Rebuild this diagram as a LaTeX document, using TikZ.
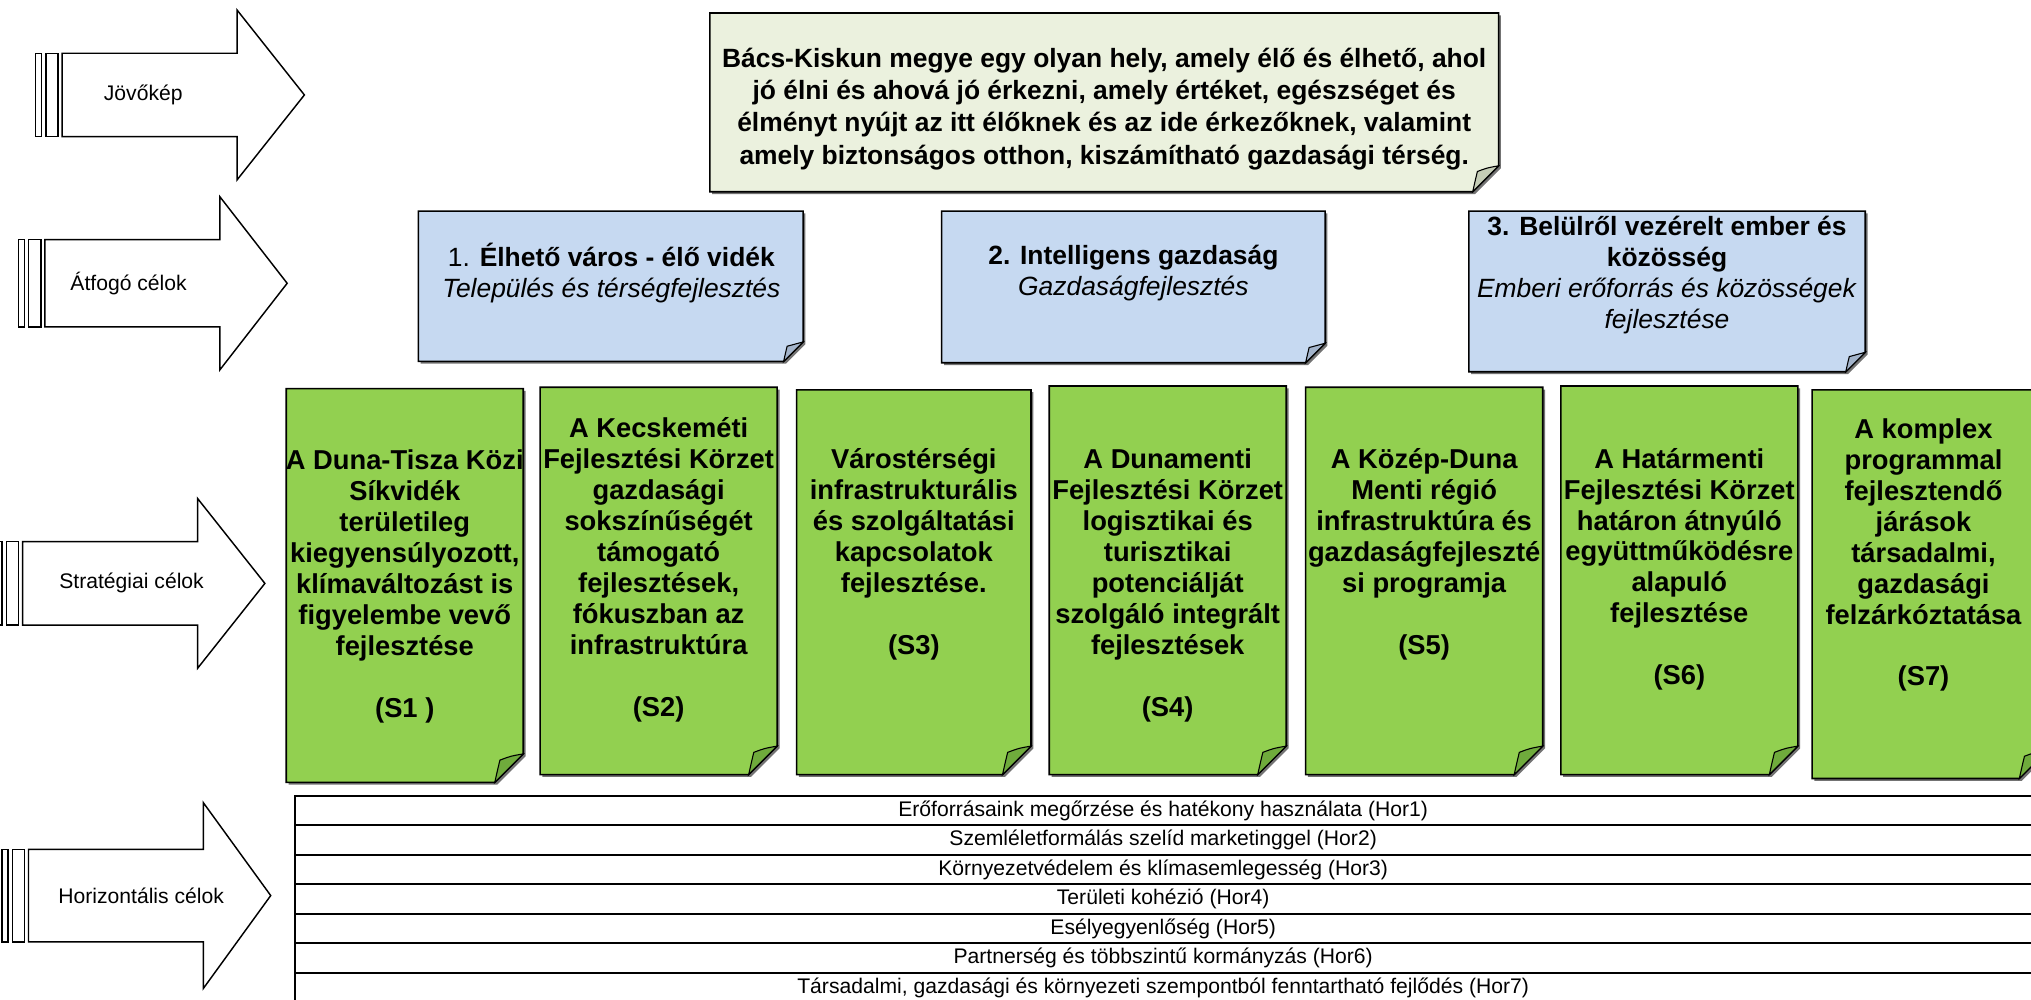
\documentclass[tikz,border=0pt]{standalone}
\usepackage{fontspec}
\setmainfont{Liberation Sans}
\usepackage{tikz}
\usetikzlibrary{positioning,calc}
\usepackage{xcolor}

\definecolor{visionfill}{HTML}{EBF1DE}
\definecolor{visionfold}{HTML}{C5CDB6}
\definecolor{goalfill}{HTML}{C6D9F1}
\definecolor{goalfold}{HTML}{A3B4CB}
\definecolor{stratfill}{HTML}{92D050}
\definecolor{stratfold}{HTML}{6FAB3C}

% sticky note: left, top, right, bottom, fold size, fill, fold fill
\newcommand{\notebox}[7]{%
  \fill[black!55] (#1+1.8,#2+1.8) -- (#3+1.8,#2+1.8) -- (#3+1.8,#4+1.8-#5) -- (#3+1.8-#5,#4+1.8) -- (#1+1.8,#4+1.8) -- cycle;
  \draw[noteline, fill=#6] (#1,#2) -- (#3,#2) -- (#3,#4-#5) -- (#3-#5,#4) -- (#1,#4) -- cycle;
  \draw[noteline, line width=0.6pt, fill=#7] (#3,#4-#5) .. controls (#3-0.45*#5,#4-0.92*#5) .. (#3-0.82*#5,#4-0.78*#5)
    .. controls (#3-0.9*#5,#4-0.45*#5) .. (#3-#5,#4) -- cycle;
}

\begin{document}
\begin{tikzpicture}[x=0.025cm, y=-0.025cm,
    noteline/.style={line width=0.9pt, line join=miter},
    arrowline/.style={line width=0.8pt, fill=white},
    levelfont/.style={font=\fontsize{11.6}{13.5}\selectfont},
    visiontext/.style={font=\fontsize{14.5}{17.8}\selectfont\bfseries, align=center},
    goaltext/.style={font=\fontsize{14.5}{17}\selectfont, align=center},
    strattext/.style={font=\fontsize{15}{17}\selectfont\bfseries, align=center},
    hortext/.style={font=\fontsize{11.6}{13.5}\selectfont}]
    \useasboundingbox (0,0) rectangle (1568,772);

    % Level arrows on the left
    \foreach \n/\xb/\ym/\hb/\hh/\xl/\txt in {1/48/73.3/32.2/65.6/110.6/Jövőkép,
        2/34.7/218.7/33.7/66.9/99.3/Átfogó célok,
        3/17.5/450.4/32.2/65.6/101.6/Stratégiai célok,
        4/22/691.4/35.7/71.7/109/Horizontális célok} {
        \draw[arrowline] (\xb-20.5,\ym-\hb) rectangle (\xb-15.8,\ym+\hb);
        \draw[arrowline] (\xb-12.5,\ym-\hb) rectangle (\xb-3.2,\ym+\hb);
        \draw[arrowline] (\xb,\ym-\hb) -- (\xb+135,\ym-\hb) -- (\xb+135,\ym-\hh) -- (\xb+187,\ym)
            -- (\xb+135,\ym+\hh) -- (\xb+135,\ym+\hb) -- (\xb,\ym+\hb) -- cycle;
        \node[levelfont] (level\n) at (\xl,\ym) {\txt};
    }

    % Vision
    \notebox{548}{10}{1157}{148}{20}{visionfill}{visionfold}
    \node[visiontext] (vision) at (852.5,84) {Bács-Kiskun megye egy olyan hely, amely élő és élhető, ahol\\
        jó élni és ahová jó érkezni, amely értéket, egészséget és\\
        élményt nyújt az itt élőknek és az ide érkezőknek, valamint\\
        amely biztonságos otthon, kiszámítható gazdasági térség.};

    % Overarching goals
    \notebox{323}{163}{620}{279}{15}{goalfill}{goalfold}
    \notebox{727}{163}{1023}{280}{15}{goalfill}{goalfold}
    \notebox{1134}{163}{1440}{287}{15}{goalfill}{goalfold}
    \node[goaltext] (goal1) at (472,211) {1. \textbf{Élhető város - élő vidék}\\\textit{Település és térségfejlesztés}};
    \node[goaltext] (goal2) at (875,211) {\textbf{2. Intelligens gazdaság}\\\textit{Gazdaságfejlesztés}};
    \node[goaltext] (goal3) at (1287,212) {\textbf{3. Belülről vezérelt ember és}\\\textbf{közösség}\\
        \textit{Emberi erőforrás és közösségek}\\\textit{fejlesztése}};

    % Strategic goals
    \foreach \l/\t/\r/\b in {221/300/404/604, 417/299/600/598, 615/301/796/598, 810/298/993/598,
        1008/299/1191/598, 1205/298/1388/598, 1399/301/1581/601} {
        \notebox{\l}{\t}{\r}{\b}{22}{stratfill}{stratfold}
    }
    \node[strattext] (s1) at (312.5,452.5) {A Duna-Tisza Közi\\Síkvidék\\területileg\\kiegyensúlyozott,\\
        klímaváltozást is\\figyelembe vevő\\fejlesztése\\[17pt](S1 )};
    \node[strattext] (s2) at (508.5,440) {A Kecskeméti\\Fejlesztési Körzet\\gazdasági\\sokszínűségét\\
        támogató\\fejlesztések,\\fókuszban az\\infrastruktúra\\[17pt](S2)};
    \node[strattext] (s3) at (705.5,428) {Várostérségi\\infrastrukturális\\és szolgáltatási\\kapcsolatok\\
        fejlesztése.\\[17pt](S3)};
    \node[strattext] (s4) at (901.5,452) {A Dunamenti\\Fejlesztési Körzet\\logisztikai és\\turisztikai\\
        potenciálját\\szolgáló integrált\\fejlesztések\\[17pt](S4)};
    \node[strattext] (s5) at (1099.5,428) {A Közép-Duna\\Menti régió\\infrastruktúra és\\gazdaságfejleszté\\
        si programja\\[17pt](S5)};
    \node[strattext] (s6) at (1296.5,439.5) {A Határmenti\\Fejlesztési Körzet\\határon átnyúló\\
        együttműködésre\\alapuló\\fejlesztése\\[17pt](S6)};
    \node[strattext] (s7) at (1485,428.5) {A komplex\\programmal\\fejlesztendő\\járások\\társadalmi,\\
        gazdasági\\felzárkóztatása\\[17pt](S7)};

    % Horizontal goals
    \foreach \i/\txt in {1/Erőforrásaink megőrzése és hatékony használata (Hor1),
        2/Szemléletformálás szelíd marketinggel (Hor2),
        3/Környezetvédelem és klímasemlegesség (Hor3),
        4/Területi kohézió (Hor4),
        5/Esélyegyenlőség (Hor5),
        6/Partnerség és többszintű kormányzás (Hor6),
        7/{Társadalmi, gazdasági és környezeti szempontból fenntartható fejlődés (Hor7)}} {
        \pgfmathsetmacro{\ytop}{614.3+(\i-1)*22.8}
        \draw[line width=1pt] (228,\ytop) rectangle (1569.5,\ytop+22.8);
        \node[hortext] (hor\i) at (898,\ytop+11.6) {\txt};
    }
\end{tikzpicture}
\end{document}
